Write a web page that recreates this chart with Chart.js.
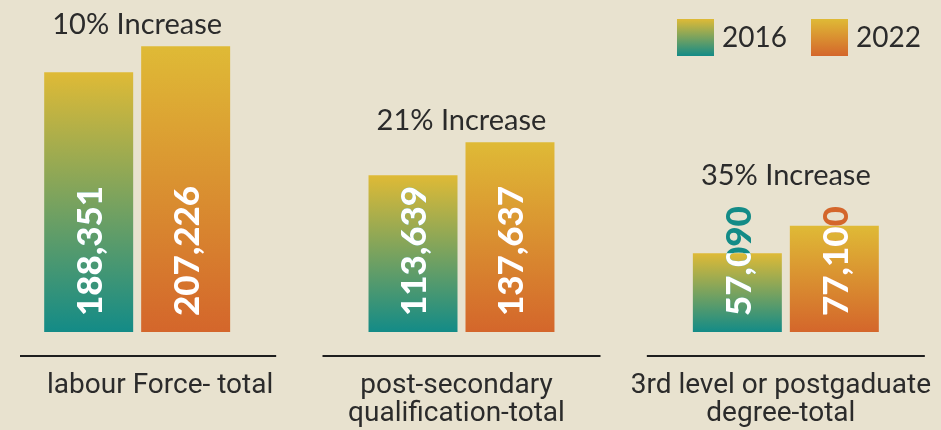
<!DOCTYPE html>
<html>
<head>
<meta charset="utf-8">
<script src="https://cdn.jsdelivr.net/npm/chart.js@4.4.1/dist/chart.umd.min.js"></script>
<style>
  html, body { margin: 0; padding: 0; background: #e8e2cf; overflow: hidden; }
  #page { width: 941px; height: 430px; position: relative; overflow: hidden; }
  /* canvas a bit wider than the page so the uneven group spacing lines up */
  #wrap { width: 973px; height: 430px; position: absolute; left: -25px; top: 0; }
</style>
</head>
<body>
<div id="page"><div id="wrap"><canvas id="chart"></canvas></div></div>
<script>
const categories = [
  ['labour Force- total'],
  ['post-secondary', 'qualification-total'],
  ['3rd level or postgaduate', 'degree-total']
];
const years = ['2016', '2022'];
const values2016 = [188351, 113639, 57090];
const values2022 = [207226, 137637, 77100];

const topColor = '#dfba36';
const bottomColors = ['#138b87', '#d4662b'];
const SHIFT = 25; // canvas x of page x = 0

function barGradient(ctx) {
  const chart = ctx.chart;
  if (!chart.chartArea || ctx.type !== 'data') return bottomColors[ctx.datasetIndex];
  const y = chart.scales.y;
  const top = y.getPixelForValue(ctx.raw);
  const bottom = y.getPixelForValue(0);
  const g = chart.ctx.createLinearGradient(0, top, 0, bottom);
  g.addColorStop(0, topColor);
  g.addColorStop(1, bottomColors[ctx.datasetIndex]);
  return g;
}

const labelFont = '900 35px Lato';
const increaseFont = '29px Lato';

// value labels, increase text, separator lines, category labels, legend
const decorations = {
  id: 'decorations',
  afterDatasetsDraw(chart) {
    const ctx = chart.ctx;
    const x = chart.scales.x;
    const labelTops = [];
    ctx.save();
    ctx.font = labelFont;
    chart.data.datasets.forEach((ds, di) => {
      chart.getDatasetMeta(di).data.forEach((bar, i) => {
        const text = ds.data[i].toLocaleString('en-US');
        const left = bar.x - bar.width / 2;
        const start = bar.base - 16;
        const w = ctx.measureText(text).width;
        labelTops[i] = Math.min(labelTops[i] ?? Infinity, start - w);
        const draw = color => {
          ctx.save();
          ctx.translate(bar.x, start);
          ctx.rotate(-Math.PI / 2);
          ctx.fillStyle = color;
          ctx.textAlign = 'left';
          ctx.textBaseline = 'middle';
          ctx.fillText(text, 0, 2);
          ctx.restore();
        };
        draw(bottomColors[di]);
        ctx.save();
        ctx.beginPath();
        ctx.rect(left, bar.y, bar.width, bar.base - bar.y);
        ctx.clip();
        draw('#ffffff');
        ctx.restore();
      });
    });

    // increase text
    ctx.font = increaseFont;
    ctx.fillStyle = '#2b2b2b';
    ctx.textAlign = 'center';
    ctx.textBaseline = 'alphabetic';
    categories.forEach((c, i) => {
      const pct = Math.round((values2022[i] - values2016[i]) / values2016[i] * 100);
      const top = Math.min(
        chart.getDatasetMeta(0).data[i].y,
        chart.getDatasetMeta(1).data[i].y
      );
      const yb = Math.min(top - 12, labelTops[i] - 21);
      ctx.fillText(pct + '% Increase', x.getPixelForValue(i), yb);
    });

    // separator lines + category labels
    ctx.strokeStyle = '#1e1e1e';
    ctx.lineWidth = 2;
    ctx.font = '28px Roboto';
    categories.forEach((lines, i) => {
      const cx = x.getPixelForValue(i);
      ctx.beginPath();
      ctx.moveTo(Math.max(20 + SHIFT, cx - 139), 356);
      ctx.lineTo(Math.min(925 + SHIFT, cx + 139), 356);
      ctx.stroke();
      const tx = i === 0 ? cx + 23 : cx - 5;
      lines.forEach((t, k) => {
        ctx.fillText(t, tx, 393 + k * 28);
      });
    });

    // legend
    ctx.font = '28px Lato';
    ctx.textAlign = 'left';
    ctx.textBaseline = 'middle';
    const legendX = [677 + SHIFT, 811 + SHIFT];
    years.forEach((yr, i) => {
      const g = ctx.createLinearGradient(0, 19, 0, 56);
      g.addColorStop(0, topColor);
      g.addColorStop(1, bottomColors[i]);
      ctx.fillStyle = g;
      ctx.fillRect(legendX[i], 19, 37, 37);
      ctx.fillStyle = '#2b2b2b';
      ctx.fillText(yr, legendX[i] + 45, 38);
    });
    ctx.restore();
  }
};

new Chart(document.getElementById('chart'), {
  type: 'bar',
  data: {
    labels: categories,
    datasets: [
      { label: years[0], data: values2016, backgroundColor: barGradient },
      { label: years[1], data: values2022, backgroundColor: barGradient }
    ]
  },
  options: {
    responsive: true,
    maintainAspectRatio: false,
    animation: false,
    layout: { padding: { left: 0, right: 0, top: 1, bottom: 98 } },
    categoryPercentage: 0.598,
    barPercentage: 0.9175,
    plugins: { legend: { display: false }, tooltip: { enabled: false } },
    scales: {
      x: { display: false },
      y: { display: false, min: 0, max: 240000 }
    }
  },
  plugins: [decorations]
});
</script>
</body>
</html>
